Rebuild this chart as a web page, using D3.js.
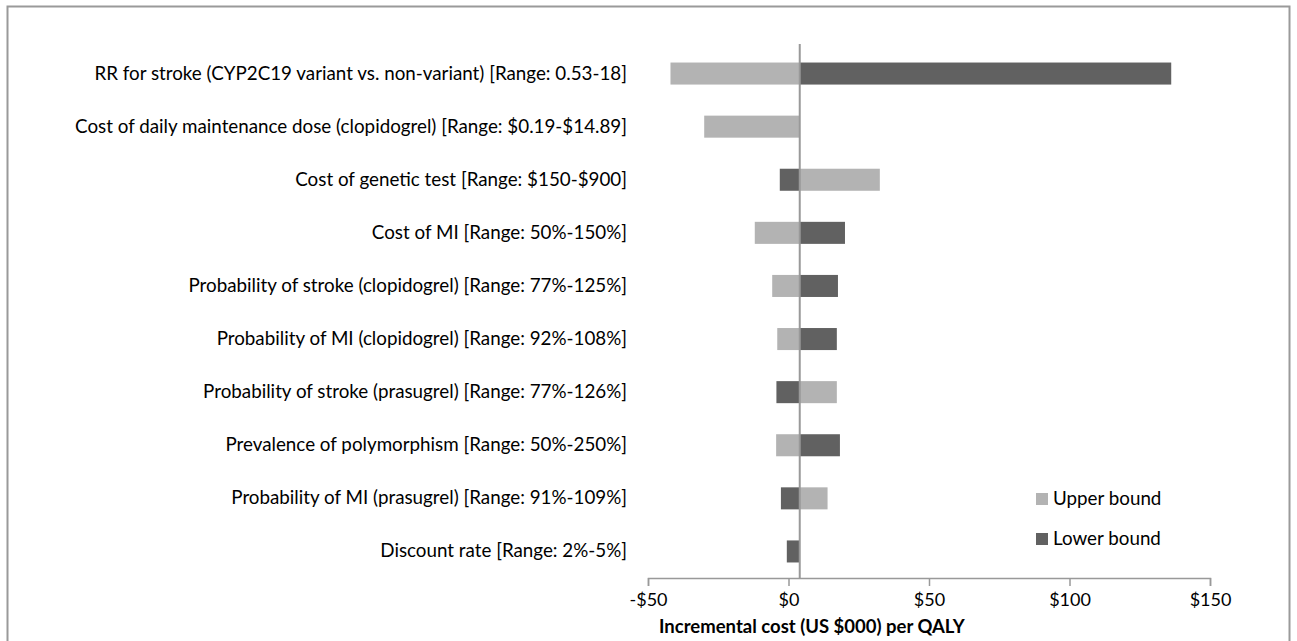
<!DOCTYPE html>
<html>
<head>
<meta charset="utf-8">
<script src="https://cdn.jsdelivr.net/npm/d3@7"></script>
<style>
  body { margin: 0; background: #fff; }
  text { font-family: Lato, "Liberation Sans", sans-serif; fill: #000; }
</style>
</head>
<body>
<div id="tornado"></div>
<script>
// parameters, top to bottom
var categories = [
  "RR for stroke (CYP2C19 variant vs. non-variant) [Range: 0.53-18]",
  "Cost of daily maintenance dose (clopidogrel) [Range: $0.19-$14.89]",
  "Cost of genetic test [Range: $150-$900]",
  "Cost of MI [Range: 50%-150%]",
  "Probability of stroke (clopidogrel) [Range: 77%-125%]",
  "Probability of MI (clopidogrel) [Range: 92%-108%]",
  "Probability of stroke (prasugrel) [Range: 77%-126%]",
  "Prevalence of polymorphism [Range: 50%-250%]",
  "Probability of MI (prasugrel) [Range: 91%-109%]",
  "Discount rate [Range: 2%-5%]"
];
// ICER ($000 per QALY) at upper / lower bound of each parameter
var upperBound = [-42, -30, 32.5, -12, -5.8, -4, 17.2, -4.4, 13.9, 4];
var lowerBound = [136.2, 4, -3.1, 20.1, 17.6, 17.2, -4.3, 18.3, -2.7, -0.6];
var baseCase = 4;
var xTicks = [-50, 0, 50, 100, 150];
var legendLabels = ["Upper bound", "Lower bound"];

var margin = {top: 47, right: 87, bottom: 63, left: 648},
    width = 1297 - margin.left - margin.right,
    height = 641 - margin.top - margin.bottom;

var svgRoot = d3.select("#tornado")
  .append("svg")
    .attr("width", 1297)
    .attr("height", 641);

// outer frame
svgRoot.append("rect")
  .attr("x", 7.5).attr("y", 6.5)
  .attr("width", 1282).attr("height", 660)
  .attr("fill", "none")
  .attr("stroke", "#9a9a9a")
  .attr("stroke-width", 2);

var svg = svgRoot.append("g")
    .attr("transform", "translate(" + margin.left + "," + margin.top + ")");

var x = d3.scaleLinear()
  .domain([-50, 150])
  .range([0, width]);

var y = d3.scaleBand()
  .domain(categories)
  .range([0, height])
  .paddingInner(0.585)
  .paddingOuter(0.2925);

var rows = categories.map(function(c, i) {
  return {name: c, upper: upperBound[i], lower: lowerBound[i]};
});

// upper bound bars (light)
svg.selectAll(".upper")
  .data(rows)
  .enter().append("rect")
    .attr("class", "upper")
    .attr("x", function(d) { return x(Math.min(d.upper, baseCase)); })
    .attr("y", function(d) { return y(d.name); })
    .attr("width", function(d) { return Math.abs(x(d.upper) - x(baseCase)); })
    .attr("height", y.bandwidth())
    .attr("fill", "#b3b3b3");

// lower bound bars (dark)
svg.selectAll(".lower")
  .data(rows)
  .enter().append("rect")
    .attr("class", "lower")
    .attr("x", function(d) { return x(Math.min(d.lower, baseCase)); })
    .attr("y", function(d) { return y(d.name); })
    .attr("width", function(d) { return Math.abs(x(d.lower) - x(baseCase)); })
    .attr("height", y.bandwidth())
    .attr("fill", "#616161");

// base case line
svg.append("line")
  .attr("x1", x(baseCase)).attr("x2", x(baseCase))
  .attr("y1", -3).attr("y2", height)
  .attr("stroke", "#999")
  .attr("stroke-width", 2);

// x axis
var xAxis = svg.append("g")
  .attr("transform", "translate(0," + height + ")")
  .call(d3.axisBottom(x)
    .tickValues(xTicks)
    .tickSize(8)
    .tickPadding(7)
    .tickFormat(function(d) { return (d < 0 ? "-" : "") + "$" + Math.abs(d); }));
xAxis.select(".domain").attr("stroke", "#999").attr("stroke-width", 1.5);
xAxis.selectAll(".tick line").attr("stroke", "#999").attr("stroke-width", 1.5);
xAxis.selectAll("text")
  .style("font-family", "Lato, sans-serif")
  .style("font-size", "18px")
  .attr("fill", "#000");

// category labels
var yAxis = svg.append("g")
  .call(d3.axisLeft(y).tickSize(0).tickPadding(21));
yAxis.select(".domain").remove();
yAxis.selectAll("text")
  .style("font-family", "Lato, sans-serif")
  .style("font-size", "18.8px")
  .attr("fill", "#000");

// x axis title
svg.append("text")
  .attr("x", 11)
  .attr("y", height + 55)
  .style("font-size", "18.5px")
  .style("font-weight", "bold")
  .text("Incremental cost (US $000) per QALY");

// legend
var legendColors = ["#b3b3b3", "#616161"];
var legend = svg.selectAll(".legend")
  .data(legendLabels)
  .enter().append("g")
    .attr("class", "legend")
    .attr("transform", function(d, i) { return "translate(388," + (446 + i * 40) + ")"; });
legend.append("rect")
  .attr("width", 12).attr("height", 12)
  .attr("fill", function(d, i) { return legendColors[i]; });
legend.append("text")
  .attr("x", 17).attr("y", 12)
  .style("font-size", "18.8px")
  .text(function(d) { return d; });
</script>
</body>
</html>
